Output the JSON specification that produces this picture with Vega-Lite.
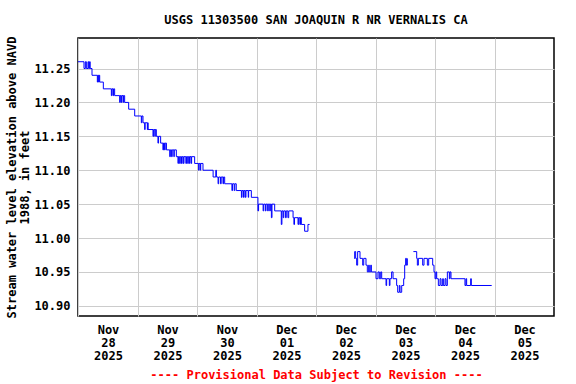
{
  "$schema": "https://vega.github.io/schema/vega-lite/v6.json",
  "width": 476,
  "height": 278,
  "autosize": {"type": "none"},
  "padding": {"left": 78, "top": 38, "right": 22, "bottom": 68},
  "background": "white",
  "title": {
    "text": "USGS 11303500 SAN JOAQUIN R NR VERNALIS CA",
    "font": "DejaVu Sans Mono",
    "fontSize": 12,
    "fontWeight": "bold",
    "color": "black",
    "anchor": "middle",
    "offset": 9
  },
  "config": {
    "view": {"stroke": "black", "strokeWidth": 1.5},
    "axis": {
      "labelFont": "DejaVu Sans Mono",
      "labelFontWeight": "bold",
      "labelFontSize": 12,
      "labelColor": "black",
      "titleFont": "DejaVu Sans Mono",
      "titleFontWeight": "bold",
      "titleFontSize": 12,
      "titleColor": "black",
      "gridColor": "#cccccc",
      "gridWidth": 1,
      "gridOpacity": 1,
      "ticks": false,
      "domain": false
    }
  },
  "data": {
    "values": [
      {"seg": "a", "t": "2025-11-28T00:00:00", "v": 11.26},
      {"seg": "a", "t": "2025-11-28T02:25:00", "v": 11.25},
      {"seg": "a", "t": "2025-11-28T02:58:00", "v": 11.26},
      {"seg": "a", "t": "2025-11-28T03:22:00", "v": 11.25},
      {"seg": "a", "t": "2025-11-28T04:02:00", "v": 11.26},
      {"seg": "a", "t": "2025-11-28T04:18:00", "v": 11.25},
      {"seg": "a", "t": "2025-11-28T04:40:00", "v": 11.26},
      {"seg": "a", "t": "2025-11-28T04:55:00", "v": 11.25},
      {"seg": "a", "t": "2025-11-28T05:39:00", "v": 11.24},
      {"seg": "a", "t": "2025-11-28T07:48:00", "v": 11.23},
      {"seg": "a", "t": "2025-11-28T08:00:00", "v": 11.24},
      {"seg": "a", "t": "2025-11-28T08:20:00", "v": 11.23},
      {"seg": "a", "t": "2025-11-28T08:30:00", "v": 11.24},
      {"seg": "a", "t": "2025-11-28T08:45:00", "v": 11.23},
      {"seg": "a", "t": "2025-11-28T10:13:00", "v": 11.22},
      {"seg": "a", "t": "2025-11-28T13:27:00", "v": 11.21},
      {"seg": "a", "t": "2025-11-28T13:40:00", "v": 11.22},
      {"seg": "a", "t": "2025-11-28T14:07:00", "v": 11.21},
      {"seg": "a", "t": "2025-11-28T14:20:00", "v": 11.22},
      {"seg": "a", "t": "2025-11-28T14:47:00", "v": 11.21},
      {"seg": "a", "t": "2025-11-28T16:49:00", "v": 11.20},
      {"seg": "a", "t": "2025-11-28T17:00:00", "v": 11.21},
      {"seg": "a", "t": "2025-11-28T17:20:00", "v": 11.20},
      {"seg": "a", "t": "2025-11-28T17:35:00", "v": 11.21},
      {"seg": "a", "t": "2025-11-28T18:10:00", "v": 11.20},
      {"seg": "a", "t": "2025-11-28T18:20:00", "v": 11.21},
      {"seg": "a", "t": "2025-11-28T18:49:00", "v": 11.20},
      {"seg": "a", "t": "2025-11-28T20:26:00", "v": 11.19},
      {"seg": "a", "t": "2025-11-28T22:52:00", "v": 11.18},
      {"seg": "a", "t": "2025-11-29T01:33:00", "v": 11.17},
      {"seg": "a", "t": "2025-11-29T01:45:00", "v": 11.18},
      {"seg": "a", "t": "2025-11-29T02:13:00", "v": 11.17},
      {"seg": "a", "t": "2025-11-29T02:53:00", "v": 11.16},
      {"seg": "a", "t": "2025-11-29T03:05:00", "v": 11.17},
      {"seg": "a", "t": "2025-11-29T03:58:00", "v": 11.16},
      {"seg": "a", "t": "2025-11-29T04:10:00", "v": 11.17},
      {"seg": "a", "t": "2025-11-29T04:15:00", "v": 11.16},
      {"seg": "a", "t": "2025-11-29T06:15:00", "v": 11.15},
      {"seg": "a", "t": "2025-11-29T06:30:00", "v": 11.16},
      {"seg": "a", "t": "2025-11-29T07:00:00", "v": 11.15},
      {"seg": "a", "t": "2025-11-29T07:10:00", "v": 11.16},
      {"seg": "a", "t": "2025-11-29T07:36:00", "v": 11.15},
      {"seg": "a", "t": "2025-11-29T08:15:00", "v": 11.14},
      {"seg": "a", "t": "2025-11-29T08:30:00", "v": 11.15},
      {"seg": "a", "t": "2025-11-29T09:20:00", "v": 11.14},
      {"seg": "a", "t": "2025-11-29T10:15:00", "v": 11.13},
      {"seg": "a", "t": "2025-11-29T10:30:00", "v": 11.14},
      {"seg": "a", "t": "2025-11-29T10:55:00", "v": 11.13},
      {"seg": "a", "t": "2025-11-29T11:10:00", "v": 11.14},
      {"seg": "a", "t": "2025-11-29T11:40:00", "v": 11.13},
      {"seg": "a", "t": "2025-11-29T13:00:00", "v": 11.12},
      {"seg": "a", "t": "2025-11-29T13:15:00", "v": 11.13},
      {"seg": "a", "t": "2025-11-29T13:45:00", "v": 11.12},
      {"seg": "a", "t": "2025-11-29T14:00:00", "v": 11.13},
      {"seg": "a", "t": "2025-11-29T14:40:00", "v": 11.12},
      {"seg": "a", "t": "2025-11-29T14:50:00", "v": 11.13},
      {"seg": "a", "t": "2025-11-29T15:40:00", "v": 11.12},
      {"seg": "a", "t": "2025-11-29T16:20:00", "v": 11.11},
      {"seg": "a", "t": "2025-11-29T16:30:00", "v": 11.12},
      {"seg": "a", "t": "2025-11-29T17:00:00", "v": 11.11},
      {"seg": "a", "t": "2025-11-29T17:15:00", "v": 11.12},
      {"seg": "a", "t": "2025-11-29T17:45:00", "v": 11.11},
      {"seg": "a", "t": "2025-11-29T18:00:00", "v": 11.12},
      {"seg": "a", "t": "2025-11-29T18:30:00", "v": 11.11},
      {"seg": "a", "t": "2025-11-29T18:45:00", "v": 11.12},
      {"seg": "a", "t": "2025-11-29T19:30:00", "v": 11.11},
      {"seg": "a", "t": "2025-11-29T19:45:00", "v": 11.12},
      {"seg": "a", "t": "2025-11-29T20:15:00", "v": 11.11},
      {"seg": "a", "t": "2025-11-29T20:30:00", "v": 11.12},
      {"seg": "a", "t": "2025-11-29T21:00:00", "v": 11.11},
      {"seg": "a", "t": "2025-11-29T21:10:00", "v": 11.12},
      {"seg": "a", "t": "2025-11-29T21:40:00", "v": 11.11},
      {"seg": "a", "t": "2025-11-29T21:50:00", "v": 11.12},
      {"seg": "a", "t": "2025-11-29T23:03:00", "v": 11.11},
      {"seg": "a", "t": "2025-11-30T00:40:00", "v": 11.10},
      {"seg": "a", "t": "2025-11-30T00:50:00", "v": 11.11},
      {"seg": "a", "t": "2025-11-30T01:20:00", "v": 11.10},
      {"seg": "a", "t": "2025-11-30T01:30:00", "v": 11.11},
      {"seg": "a", "t": "2025-11-30T02:25:00", "v": 11.10},
      {"seg": "a", "t": "2025-11-30T06:30:00", "v": 11.09},
      {"seg": "a", "t": "2025-11-30T07:35:00", "v": 11.10},
      {"seg": "a", "t": "2025-11-30T07:50:00", "v": 11.09},
      {"seg": "a", "t": "2025-11-30T08:30:00", "v": 11.08},
      {"seg": "a", "t": "2025-11-30T08:45:00", "v": 11.09},
      {"seg": "a", "t": "2025-11-30T09:30:00", "v": 11.08},
      {"seg": "a", "t": "2025-11-30T09:45:00", "v": 11.09},
      {"seg": "a", "t": "2025-11-30T10:30:00", "v": 11.08},
      {"seg": "a", "t": "2025-11-30T10:40:00", "v": 11.09},
      {"seg": "a", "t": "2025-11-30T11:10:00", "v": 11.08},
      {"seg": "a", "t": "2025-11-30T14:05:00", "v": 11.07},
      {"seg": "a", "t": "2025-11-30T14:20:00", "v": 11.08},
      {"seg": "a", "t": "2025-11-30T15:00:00", "v": 11.07},
      {"seg": "a", "t": "2025-11-30T15:15:00", "v": 11.08},
      {"seg": "a", "t": "2025-11-30T15:50:00", "v": 11.07},
      {"seg": "a", "t": "2025-11-30T17:55:00", "v": 11.06},
      {"seg": "a", "t": "2025-11-30T18:10:00", "v": 11.07},
      {"seg": "a", "t": "2025-11-30T18:45:00", "v": 11.06},
      {"seg": "a", "t": "2025-11-30T19:00:00", "v": 11.07},
      {"seg": "a", "t": "2025-11-30T19:30:00", "v": 11.06},
      {"seg": "a", "t": "2025-11-30T19:45:00", "v": 11.07},
      {"seg": "a", "t": "2025-11-30T20:40:00", "v": 11.06},
      {"seg": "a", "t": "2025-11-30T20:50:00", "v": 11.07},
      {"seg": "a", "t": "2025-11-30T21:55:00", "v": 11.06},
      {"seg": "a", "t": "2025-12-01T00:35:00", "v": 11.04},
      {"seg": "a", "t": "2025-12-01T00:50:00", "v": 11.05},
      {"seg": "a", "t": "2025-12-01T02:40:00", "v": 11.04},
      {"seg": "a", "t": "2025-12-01T02:55:00", "v": 11.05},
      {"seg": "a", "t": "2025-12-01T03:35:00", "v": 11.04},
      {"seg": "a", "t": "2025-12-01T03:50:00", "v": 11.05},
      {"seg": "a", "t": "2025-12-01T04:30:00", "v": 11.04},
      {"seg": "a", "t": "2025-12-01T04:45:00", "v": 11.05},
      {"seg": "a", "t": "2025-12-01T05:20:00", "v": 11.04},
      {"seg": "a", "t": "2025-12-01T05:35:00", "v": 11.05},
      {"seg": "a", "t": "2025-12-01T06:00:00", "v": 11.03},
      {"seg": "a", "t": "2025-12-01T06:15:00", "v": 11.05},
      {"seg": "a", "t": "2025-12-01T07:20:00", "v": 11.04},
      {"seg": "a", "t": "2025-12-01T10:00:00", "v": 11.02},
      {"seg": "a", "t": "2025-12-01T10:15:00", "v": 11.04},
      {"seg": "a", "t": "2025-12-01T10:45:00", "v": 11.03},
      {"seg": "a", "t": "2025-12-01T11:00:00", "v": 11.04},
      {"seg": "a", "t": "2025-12-01T11:40:00", "v": 11.03},
      {"seg": "a", "t": "2025-12-01T12:00:00", "v": 11.04},
      {"seg": "a", "t": "2025-12-01T12:40:00", "v": 11.03},
      {"seg": "a", "t": "2025-12-01T13:00:00", "v": 11.04},
      {"seg": "a", "t": "2025-12-01T14:45:00", "v": 11.03},
      {"seg": "a", "t": "2025-12-01T15:05:00", "v": 11.02},
      {"seg": "a", "t": "2025-12-01T15:20:00", "v": 11.03},
      {"seg": "a", "t": "2025-12-01T16:45:00", "v": 11.02},
      {"seg": "a", "t": "2025-12-01T17:00:00", "v": 11.03},
      {"seg": "a", "t": "2025-12-01T17:30:00", "v": 11.02},
      {"seg": "a", "t": "2025-12-01T17:45:00", "v": 11.03},
      {"seg": "a", "t": "2025-12-01T18:05:00", "v": 11.02},
      {"seg": "a", "t": "2025-12-01T19:25:00", "v": 11.01},
      {"seg": "a", "t": "2025-12-01T20:45:00", "v": 11.02},
      {"seg": "a", "t": "2025-12-01T21:25:00", "v": 11.02},
      {"seg": "b", "t": "2025-12-02T15:20:00", "v": 10.97},
      {"seg": "b", "t": "2025-12-02T15:36:00", "v": 10.98},
      {"seg": "b", "t": "2025-12-02T16:00:00", "v": 10.97},
      {"seg": "b", "t": "2025-12-02T16:24:00", "v": 10.96},
      {"seg": "b", "t": "2025-12-02T16:48:00", "v": 10.98},
      {"seg": "b", "t": "2025-12-02T17:45:00", "v": 10.97},
      {"seg": "b", "t": "2025-12-02T18:50:00", "v": 10.96},
      {"seg": "b", "t": "2025-12-02T19:15:00", "v": 10.97},
      {"seg": "b", "t": "2025-12-02T20:10:00", "v": 10.96},
      {"seg": "b", "t": "2025-12-02T20:42:00", "v": 10.95},
      {"seg": "b", "t": "2025-12-02T21:15:00", "v": 10.96},
      {"seg": "b", "t": "2025-12-02T21:30:00", "v": 10.95},
      {"seg": "b", "t": "2025-12-02T22:05:00", "v": 10.96},
      {"seg": "b", "t": "2025-12-02T22:20:00", "v": 10.95},
      {"seg": "b", "t": "2025-12-03T00:12:00", "v": 10.94},
      {"seg": "b", "t": "2025-12-03T01:00:00", "v": 10.95},
      {"seg": "b", "t": "2025-12-03T01:33:00", "v": 10.94},
      {"seg": "b", "t": "2025-12-03T02:06:00", "v": 10.95},
      {"seg": "b", "t": "2025-12-03T02:30:00", "v": 10.94},
      {"seg": "b", "t": "2025-12-03T04:15:00", "v": 10.93},
      {"seg": "b", "t": "2025-12-03T04:30:00", "v": 10.94},
      {"seg": "b", "t": "2025-12-03T05:35:00", "v": 10.93},
      {"seg": "b", "t": "2025-12-03T05:50:00", "v": 10.94},
      {"seg": "b", "t": "2025-12-03T06:30:00", "v": 10.95},
      {"seg": "b", "t": "2025-12-03T07:05:00", "v": 10.94},
      {"seg": "b", "t": "2025-12-03T08:32:00", "v": 10.93},
      {"seg": "b", "t": "2025-12-03T08:57:00", "v": 10.92},
      {"seg": "b", "t": "2025-12-03T09:37:00", "v": 10.93},
      {"seg": "b", "t": "2025-12-03T09:54:00", "v": 10.92},
      {"seg": "b", "t": "2025-12-03T10:34:00", "v": 10.93},
      {"seg": "b", "t": "2025-12-03T11:22:00", "v": 10.94},
      {"seg": "b", "t": "2025-12-03T11:46:00", "v": 10.96},
      {"seg": "b", "t": "2025-12-03T12:10:00", "v": 10.97},
      {"seg": "b", "t": "2025-12-03T12:27:00", "v": 10.96},
      {"seg": "b", "t": "2025-12-03T12:51:00", "v": 10.97},
      {"seg": "c", "t": "2025-12-03T15:17:00", "v": 10.98},
      {"seg": "c", "t": "2025-12-03T16:37:00", "v": 10.97},
      {"seg": "c", "t": "2025-12-03T16:53:00", "v": 10.96},
      {"seg": "c", "t": "2025-12-03T17:17:00", "v": 10.97},
      {"seg": "c", "t": "2025-12-03T19:02:00", "v": 10.96},
      {"seg": "c", "t": "2025-12-03T19:34:00", "v": 10.97},
      {"seg": "c", "t": "2025-12-03T20:55:00", "v": 10.96},
      {"seg": "c", "t": "2025-12-03T21:27:00", "v": 10.97},
      {"seg": "c", "t": "2025-12-03T23:04:00", "v": 10.96},
      {"seg": "c", "t": "2025-12-03T23:36:00", "v": 10.95},
      {"seg": "c", "t": "2025-12-04T00:00:00", "v": 10.94},
      {"seg": "c", "t": "2025-12-04T00:24:00", "v": 10.95},
      {"seg": "c", "t": "2025-12-04T00:41:00", "v": 10.94},
      {"seg": "c", "t": "2025-12-04T01:21:00", "v": 10.93},
      {"seg": "c", "t": "2025-12-04T02:02:00", "v": 10.94},
      {"seg": "c", "t": "2025-12-04T02:26:00", "v": 10.93},
      {"seg": "c", "t": "2025-12-04T03:06:00", "v": 10.94},
      {"seg": "c", "t": "2025-12-04T03:22:00", "v": 10.93},
      {"seg": "c", "t": "2025-12-04T04:03:00", "v": 10.94},
      {"seg": "c", "t": "2025-12-04T04:27:00", "v": 10.93},
      {"seg": "c", "t": "2025-12-04T04:59:00", "v": 10.95},
      {"seg": "c", "t": "2025-12-04T05:47:00", "v": 10.94},
      {"seg": "c", "t": "2025-12-04T06:03:00", "v": 10.95},
      {"seg": "c", "t": "2025-12-04T06:27:00", "v": 10.94},
      {"seg": "c", "t": "2025-12-04T12:05:00", "v": 10.93},
      {"seg": "c", "t": "2025-12-04T12:29:00", "v": 10.94},
      {"seg": "c", "t": "2025-12-04T12:46:00", "v": 10.93},
      {"seg": "c", "t": "2025-12-04T14:23:00", "v": 10.94},
      {"seg": "c", "t": "2025-12-04T14:39:00", "v": 10.93},
      {"seg": "c", "t": "2025-12-04T22:52:00", "v": 10.93}
    ]
  },
  "mark": {"type": "line", "interpolate": "step-after", "color": "#0000ff", "strokeWidth": 1},
  "encoding": {
    "x": {
      "field": "t",
      "type": "temporal",
      "scale": {
        "domain": [
          {"year": 2025, "month": 11, "date": 28},
          {"year": 2025, "month": 12, "date": 6}
        ]
      },
      "axis": {
        "title": "---- Provisional Data Subject to Revision ----",
        "titleColor": "#ff0000",
        "titlePadding": 8,
        "values": [
          {"year": 2025, "month": 11, "date": 28},
          {"year": 2025, "month": 11, "date": 29},
          {"year": 2025, "month": 11, "date": 30},
          {"year": 2025, "month": 12, "date": 1},
          {"year": 2025, "month": 12, "date": 2},
          {"year": 2025, "month": 12, "date": 3},
          {"year": 2025, "month": 12, "date": 4},
          {"year": 2025, "month": 12, "date": 5}
        ],
        "labelExpr": "[timeFormat(datum.value, '%b'), timeFormat(datum.value, '%d'), timeFormat(datum.value, '%Y')]",
        "labelOffset": 30,
        "labelFlush": false,
        "labelOverlap": false,
        "labelAlign": "center",
        "labelBaseline": "top",
        "labelLineHeight": 13,
        "labelPadding": 8,
        "grid": true
      }
    },
    "y": {
      "field": "v",
      "type": "quantitative",
      "scale": {"domain": [10.885, 11.295], "nice": false, "zero": false},
      "axis": {
        "title": ["Stream water level elevation above NAVD", "1988, in feet"],
        "titleLineHeight": 13,
        "titlePadding": 2,
        "values": [10.90, 10.95, 11.00, 11.05, 11.10, 11.15, 11.20, 11.25],
        "format": ".2f",
        "labelPadding": 8,
        "grid": true
      }
    },
    "detail": {"field": "seg", "type": "nominal"}
  }
}
